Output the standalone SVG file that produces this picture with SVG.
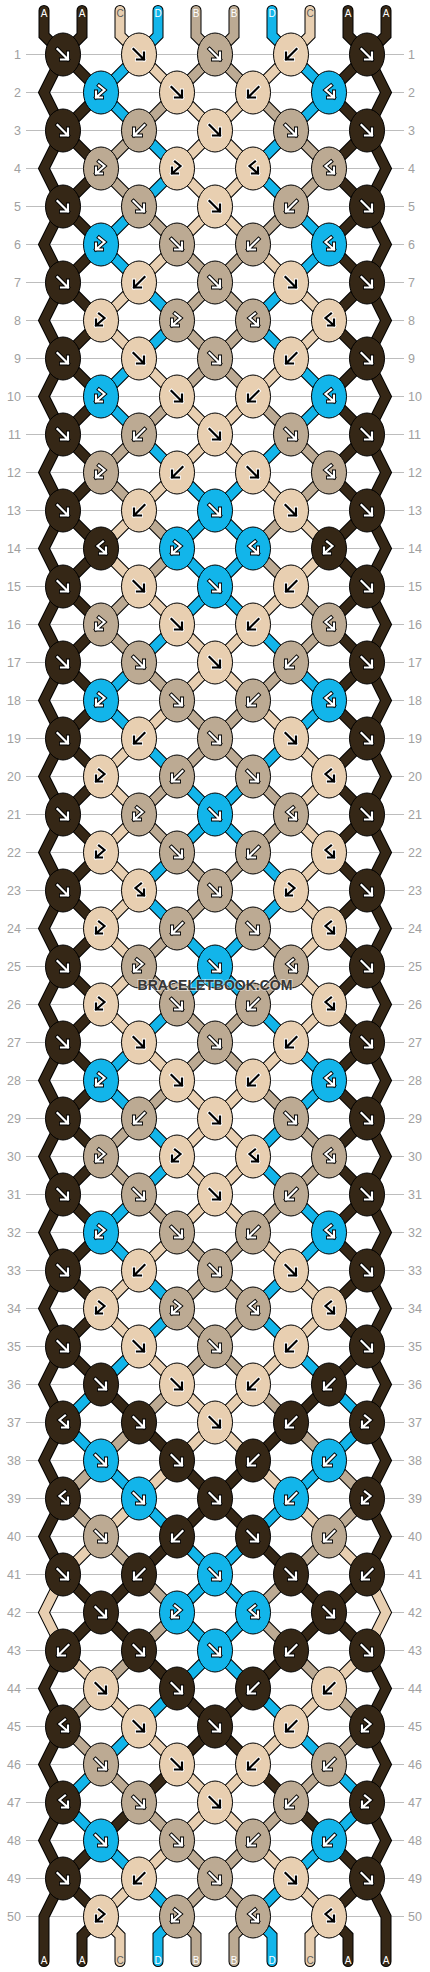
<svg xmlns="http://www.w3.org/2000/svg" xmlns:xlink="http://www.w3.org/1999/xlink" width="430" height="1972" viewBox="0 0 430 1972">
<style>
text{font-family:"Liberation Sans",Arial,sans-serif}
.num{font-size:12.5px;fill:#a0a0a0}
.lab{font-size:10px;text-anchor:middle}
.grid{stroke:#bdbdbd;stroke-width:1;fill:none}
.str{fill:none;stroke-linecap:round;stroke-linejoin:miter}
.o{stroke:#000;stroke-width:11}
.cA{stroke:#352716;stroke-width:9}
.cB{stroke:#bcaa93;stroke-width:9}
.cC{stroke:#e8cfb1;stroke-width:9}
.cD{stroke:#12b5ea;stroke-width:9}
.e{stroke:#000;stroke-width:1}
.eA{fill:#352716}.eB{fill:#bcaa93}.eC{fill:#e8cfb1}.eD{fill:#12b5ea}
.ar{fill:none;stroke-linecap:square;stroke-linejoin:miter}
.wo{stroke:#000;stroke-width:4}.wi{stroke:#fff;stroke-width:2.2}
.bo{stroke:#fff;stroke-width:4}.bi{stroke:#000;stroke-width:2.2}
</style>
<defs>
<path id="aF" class="ar" d="M-5.5 -5.5L5 5M5 -2V5H-2"/>
<path id="aB" class="ar" d="M5.5 -5.5L-5 5M-5 -2V5H2"/>
<path id="aFB" class="ar" d="M2 -7L-3.5 -2.5L5 5M5 -1V5H-1"/>
<path id="aBF" class="ar" d="M-2 -7L3.5 -2.5L-5 5M-5 -1V5H1"/>
<g id="kAF"><ellipse class="e eA" rx="17.5" ry="21.5"/><use href="#aF" class="wo"/><use href="#aF" class="wi"/></g>
<g id="kAB"><ellipse class="e eA" rx="17.5" ry="21.5"/><use href="#aB" class="wo"/><use href="#aB" class="wi"/></g>
<g id="kAFB"><ellipse class="e eA" rx="17.5" ry="21.5"/><use href="#aFB" class="wo"/><use href="#aFB" class="wi"/></g>
<g id="kABF"><ellipse class="e eA" rx="17.5" ry="21.5"/><use href="#aBF" class="wo"/><use href="#aBF" class="wi"/></g>
<g id="kBF"><ellipse class="e eB" rx="17.5" ry="21.5"/><use href="#aF" class="wo"/><use href="#aF" class="wi"/></g>
<g id="kBB"><ellipse class="e eB" rx="17.5" ry="21.5"/><use href="#aB" class="wo"/><use href="#aB" class="wi"/></g>
<g id="kBFB"><ellipse class="e eB" rx="17.5" ry="21.5"/><use href="#aFB" class="wo"/><use href="#aFB" class="wi"/></g>
<g id="kBBF"><ellipse class="e eB" rx="17.5" ry="21.5"/><use href="#aBF" class="wo"/><use href="#aBF" class="wi"/></g>
<g id="kCF"><ellipse class="e eC" rx="17.5" ry="21.5"/><use href="#aF" class="bo"/><use href="#aF" class="bi"/></g>
<g id="kCB"><ellipse class="e eC" rx="17.5" ry="21.5"/><use href="#aB" class="bo"/><use href="#aB" class="bi"/></g>
<g id="kCFB"><ellipse class="e eC" rx="17.5" ry="21.5"/><use href="#aFB" class="bo"/><use href="#aFB" class="bi"/></g>
<g id="kCBF"><ellipse class="e eC" rx="17.5" ry="21.5"/><use href="#aBF" class="bo"/><use href="#aBF" class="bi"/></g>
<g id="kDF"><ellipse class="e eD" rx="17.5" ry="21.5"/><use href="#aF" class="wo"/><use href="#aF" class="wi"/></g>
<g id="kDB"><ellipse class="e eD" rx="17.5" ry="21.5"/><use href="#aB" class="wo"/><use href="#aB" class="wi"/></g>
<g id="kDFB"><ellipse class="e eD" rx="17.5" ry="21.5"/><use href="#aFB" class="wo"/><use href="#aFB" class="wi"/></g>
<g id="kDBF"><ellipse class="e eD" rx="17.5" ry="21.5"/><use href="#aBF" class="wo"/><use href="#aBF" class="wi"/></g>
<path id="p0" class="str" d="M44 10.5V35.5L63 54.5l-19 38 19 38 -19 38 19 38 -19 38 19 38 -19 38 19 38 -19 38 19 38 -19 38 19 38 -19 38 19 38 -19 38 19 38 -19 38 19 38 -19 38 19 38 -19 38 19 38 -19 38 19 38 -19 38 19 38 -19 38 19 38 -19 38 19 38 -19 38 19 38 -19 38 19 38 -19 38 19 38 -19 38 19 38 -19 38 19 38 38 38 -38 38 -19 38 19 38 -19 38 19 38 -19 38 19 38 -19 38V1961.5"/>
<path id="p1" class="str" d="M82 10.5V35.5L63 54.5L101 92.5L63 130.5L101 168.5L63 206.5L101 244.5L63 282.5L101 320.5L63 358.5L101 396.5L63 434.5L101 472.5L63 510.5L101 548.5L63 586.5L101 624.5L63 662.5L101 700.5L63 738.5L101 776.5L63 814.5L101 852.5L63 890.5L101 928.5L63 966.5L101 1004.5L63 1042.5L101 1080.5L63 1118.5L101 1156.5L63 1194.5L101 1232.5L63 1270.5L101 1308.5L63 1346.5L101 1384.5L139 1422.5L177 1460.5L215 1498.5L177 1536.5L139 1574.5L101 1612.5L139 1650.5L177 1688.5L215 1726.5L177 1764.5L139 1802.5L101 1840.5L63 1878.5L101 1916.5L82 1935.5V1961.5"/>
<path id="p2" class="str" d="M120 10.5V35.5L139 54.5l38 38 38 38 -38 38 38 38 -38 38 -38 38 -38 38 38 38 38 38 38 38 -38 38 -38 38 -38 38 38 38 38 38 38 38 -38 38 -38 38 -38 38 38 38 -38 38 38 38 -38 38 38 38 -38 38 38 38 38 38 38 38 -38 38 38 38 -38 38 -38 38 -38 38 38 38 38 38 38 38 -38 38 -38 38 -38 38 -38 38 -19 38 19 38 38 38 38 38 38 38 38 38 -38 38 -38 38 -38 38 19 19V1961.5"/>
<path id="p3" class="str" d="M158 10.5V35.5L139 54.5l-38 38 38 38 38 38 -38 38 -38 38 38 38 38 38 -38 38 -38 38 38 38 38 38 38 38 -38 38 38 38 -38 38 -38 38 -38 38 38 38 38 38 38 38 -38 38 -38 38 38 38 38 38 -38 38 -38 38 -38 38 38 38 38 38 -38 38 -38 38 38 38 38 38 -38 38 -38 38 -38 38 38 38 38 38 38 38 38 38 -38 38 38 38 -38 38 -38 38 -38 38 -38 38 38 38 38 38 38 38 -19 19V1961.5"/>
<path id="p4" class="str" d="M196 10.5V35.5L215 54.5l-38 38 -38 38 -38 38 38 38 38 38 38 38 -38 38 38 38 -38 38 -38 38 -38 38 38 38 38 38 -38 38 -38 38 38 38 38 38 38 38 -38 38 -38 38 38 38 38 38 -38 38 -38 38 38 38 38 38 -38 38 -38 38 -38 38 38 38 38 38 38 38 -38 38 38 38 -38 38 -38 38 -38 38 -38 38 38 38 38 38 38 38 -38 38 -38 38 -38 38 38 38 38 38 38 38 38 38 -38 38 19 19V1961.5"/>
</defs>
<rect width="430" height="1972" fill="#fff"/>
<g id="grid" class="grid"><path d="M26 54.5H404M26 92.5H404M26 130.5H404M26 168.5H404M26 206.5H404M26 244.5H404M26 282.5H404M26 320.5H404M26 358.5H404M26 396.5H404M26 434.5H404M26 472.5H404M26 510.5H404M26 548.5H404M26 586.5H404M26 624.5H404M26 662.5H404M26 700.5H404M26 738.5H404M26 776.5H404M26 814.5H404M26 852.5H404M26 890.5H404M26 928.5H404M26 966.5H404M26 1004.5H404M26 1042.5H404M26 1080.5H404M26 1118.5H404M26 1156.5H404M26 1194.5H404M26 1232.5H404M26 1270.5H404M26 1308.5H404M26 1346.5H404M26 1384.5H404M26 1422.5H404M26 1460.5H404M26 1498.5H404M26 1536.5H404M26 1574.5H404M26 1612.5H404M26 1650.5H404M26 1688.5H404M26 1726.5H404M26 1764.5H404M26 1802.5H404M26 1840.5H404M26 1878.5H404M26 1916.5H404"/></g>
<g id="numbers-left" class="num" text-anchor="end">
<text x="21" y="59">1</text><text x="21" y="97">2</text><text x="21" y="135">3</text><text x="21" y="173">4</text><text x="21" y="211">5</text><text x="21" y="249">6</text><text x="21" y="287">7</text><text x="21" y="325">8</text><text x="21" y="363">9</text><text x="21" y="401">10</text><text x="21" y="439">11</text><text x="21" y="477">12</text><text x="21" y="515">13</text><text x="21" y="553">14</text><text x="21" y="591">15</text><text x="21" y="629">16</text><text x="21" y="667">17</text><text x="21" y="705">18</text><text x="21" y="743">19</text><text x="21" y="781">20</text><text x="21" y="819">21</text><text x="21" y="857">22</text><text x="21" y="895">23</text><text x="21" y="933">24</text><text x="21" y="971">25</text><text x="21" y="1009">26</text><text x="21" y="1047">27</text><text x="21" y="1085">28</text><text x="21" y="1123">29</text><text x="21" y="1161">30</text><text x="21" y="1199">31</text><text x="21" y="1237">32</text><text x="21" y="1275">33</text><text x="21" y="1313">34</text><text x="21" y="1351">35</text><text x="21" y="1389">36</text><text x="21" y="1427">37</text><text x="21" y="1465">38</text><text x="21" y="1503">39</text><text x="21" y="1541">40</text><text x="21" y="1579">41</text><text x="21" y="1617">42</text><text x="21" y="1655">43</text><text x="21" y="1693">44</text><text x="21" y="1731">45</text><text x="21" y="1769">46</text><text x="21" y="1807">47</text><text x="21" y="1845">48</text><text x="21" y="1883">49</text><text x="21" y="1921">50</text>
</g>
<g id="numbers-right" class="num">
<text x="408" y="59">1</text><text x="408" y="97">2</text><text x="408" y="135">3</text><text x="408" y="173">4</text><text x="408" y="211">5</text><text x="408" y="249">6</text><text x="408" y="287">7</text><text x="408" y="325">8</text><text x="408" y="363">9</text><text x="408" y="401">10</text><text x="408" y="439">11</text><text x="408" y="477">12</text><text x="408" y="515">13</text><text x="408" y="553">14</text><text x="408" y="591">15</text><text x="408" y="629">16</text><text x="408" y="667">17</text><text x="408" y="705">18</text><text x="408" y="743">19</text><text x="408" y="781">20</text><text x="408" y="819">21</text><text x="408" y="857">22</text><text x="408" y="895">23</text><text x="408" y="933">24</text><text x="408" y="971">25</text><text x="408" y="1009">26</text><text x="408" y="1047">27</text><text x="408" y="1085">28</text><text x="408" y="1123">29</text><text x="408" y="1161">30</text><text x="408" y="1199">31</text><text x="408" y="1237">32</text><text x="408" y="1275">33</text><text x="408" y="1313">34</text><text x="408" y="1351">35</text><text x="408" y="1389">36</text><text x="408" y="1427">37</text><text x="408" y="1465">38</text><text x="408" y="1503">39</text><text x="408" y="1541">40</text><text x="408" y="1579">41</text><text x="408" y="1617">42</text><text x="408" y="1655">43</text><text x="408" y="1693">44</text><text x="408" y="1731">45</text><text x="408" y="1769">46</text><text x="408" y="1807">47</text><text x="408" y="1845">48</text><text x="408" y="1883">49</text><text x="408" y="1921">50</text>
</g>
<g id="connectors">
<use href="#p0" class="o"/><use href="#p0" class="cA"/>
<use href="#p1" class="o"/><use href="#p1" class="cA"/>
<use href="#p2" class="o"/><use href="#p2" class="cC"/>
<use href="#p3" class="o"/><use href="#p3" class="cD"/>
<use href="#p4" class="o"/><use href="#p4" class="cB"/>
<g transform="matrix(-1 0 0 1 430 0)">
<use href="#p0" class="o"/><use href="#p0" class="cA"/>
<use href="#p1" class="o"/><use href="#p1" class="cA"/>
<use href="#p2" class="o"/><use href="#p2" class="cC"/>
<use href="#p3" class="o"/><use href="#p3" class="cD"/>
<use href="#p4" class="o"/><use href="#p4" class="cB"/>
</g>
</g>
<g id="knots">
<g transform="translate(0 54.5)"><g id="k1-1"><use href="#kAF" x="63"/></g><g id="k1-2"><use href="#kCF" x="139"/></g><g id="k1-3"><use href="#kBF" x="215"/></g><g id="k1-4"><use href="#kCB" x="291"/></g><g id="k1-5"><use href="#kAF" x="367"/></g></g>
<g transform="translate(0 92.5)"><g id="k2-1"><use href="#kDBF" x="101"/></g><g id="k2-2"><use href="#kCF" x="177"/></g><g id="k2-3"><use href="#kCB" x="253"/></g><g id="k2-4"><use href="#kDFB" x="329"/></g></g>
<g transform="translate(0 130.5)"><g id="k3-1"><use href="#kAF" x="63"/></g><g id="k3-2"><use href="#kBB" x="139"/></g><g id="k3-3"><use href="#kCF" x="215"/></g><g id="k3-4"><use href="#kBF" x="291"/></g><g id="k3-5"><use href="#kAF" x="367"/></g></g>
<g transform="translate(0 168.5)"><g id="k4-1"><use href="#kBBF" x="101"/></g><g id="k4-2"><use href="#kCBF" x="177"/></g><g id="k4-3"><use href="#kCFB" x="253"/></g><g id="k4-4"><use href="#kBFB" x="329"/></g></g>
<g transform="translate(0 206.5)"><g id="k5-1"><use href="#kAF" x="63"/></g><g id="k5-2"><use href="#kBF" x="139"/></g><g id="k5-3"><use href="#kCF" x="215"/></g><g id="k5-4"><use href="#kBB" x="291"/></g><g id="k5-5"><use href="#kAF" x="367"/></g></g>
<g transform="translate(0 244.5)"><g id="k6-1"><use href="#kDBF" x="101"/></g><g id="k6-2"><use href="#kBF" x="177"/></g><g id="k6-3"><use href="#kBB" x="253"/></g><g id="k6-4"><use href="#kDFB" x="329"/></g></g>
<g transform="translate(0 282.5)"><g id="k7-1"><use href="#kAF" x="63"/></g><g id="k7-2"><use href="#kCB" x="139"/></g><g id="k7-3"><use href="#kBF" x="215"/></g><g id="k7-4"><use href="#kCF" x="291"/></g><g id="k7-5"><use href="#kAF" x="367"/></g></g>
<g transform="translate(0 320.5)"><g id="k8-1"><use href="#kCBF" x="101"/></g><g id="k8-2"><use href="#kBBF" x="177"/></g><g id="k8-3"><use href="#kBFB" x="253"/></g><g id="k8-4"><use href="#kCFB" x="329"/></g></g>
<g transform="translate(0 358.5)"><g id="k9-1"><use href="#kAF" x="63"/></g><g id="k9-2"><use href="#kCF" x="139"/></g><g id="k9-3"><use href="#kBF" x="215"/></g><g id="k9-4"><use href="#kCB" x="291"/></g><g id="k9-5"><use href="#kAF" x="367"/></g></g>
<g transform="translate(0 396.5)"><g id="k10-1"><use href="#kDBF" x="101"/></g><g id="k10-2"><use href="#kCF" x="177"/></g><g id="k10-3"><use href="#kCB" x="253"/></g><g id="k10-4"><use href="#kDFB" x="329"/></g></g>
<g transform="translate(0 434.5)"><g id="k11-1"><use href="#kAF" x="63"/></g><g id="k11-2"><use href="#kBB" x="139"/></g><g id="k11-3"><use href="#kCF" x="215"/></g><g id="k11-4"><use href="#kBF" x="291"/></g><g id="k11-5"><use href="#kAF" x="367"/></g></g>
<g transform="translate(0 472.5)"><g id="k12-1"><use href="#kBBF" x="101"/></g><g id="k12-2"><use href="#kCB" x="177"/></g><g id="k12-3"><use href="#kCF" x="253"/></g><g id="k12-4"><use href="#kBFB" x="329"/></g></g>
<g transform="translate(0 510.5)"><g id="k13-1"><use href="#kAF" x="63"/></g><g id="k13-2"><use href="#kCB" x="139"/></g><g id="k13-3"><use href="#kDF" x="215"/></g><g id="k13-4"><use href="#kCF" x="291"/></g><g id="k13-5"><use href="#kAF" x="367"/></g></g>
<g transform="translate(0 548.5)"><g id="k14-1"><use href="#kAFB" x="101"/></g><g id="k14-2"><use href="#kDBF" x="177"/></g><g id="k14-3"><use href="#kDFB" x="253"/></g><g id="k14-4"><use href="#kABF" x="329"/></g></g>
<g transform="translate(0 586.5)"><g id="k15-1"><use href="#kAF" x="63"/></g><g id="k15-2"><use href="#kCF" x="139"/></g><g id="k15-3"><use href="#kDF" x="215"/></g><g id="k15-4"><use href="#kCB" x="291"/></g><g id="k15-5"><use href="#kAF" x="367"/></g></g>
<g transform="translate(0 624.5)"><g id="k16-1"><use href="#kBBF" x="101"/></g><g id="k16-2"><use href="#kCF" x="177"/></g><g id="k16-3"><use href="#kCB" x="253"/></g><g id="k16-4"><use href="#kBFB" x="329"/></g></g>
<g transform="translate(0 662.5)"><g id="k17-1"><use href="#kAF" x="63"/></g><g id="k17-2"><use href="#kBF" x="139"/></g><g id="k17-3"><use href="#kCF" x="215"/></g><g id="k17-4"><use href="#kBB" x="291"/></g><g id="k17-5"><use href="#kAF" x="367"/></g></g>
<g transform="translate(0 700.5)"><g id="k18-1"><use href="#kDBF" x="101"/></g><g id="k18-2"><use href="#kBF" x="177"/></g><g id="k18-3"><use href="#kBB" x="253"/></g><g id="k18-4"><use href="#kDFB" x="329"/></g></g>
<g transform="translate(0 738.5)"><g id="k19-1"><use href="#kAF" x="63"/></g><g id="k19-2"><use href="#kCB" x="139"/></g><g id="k19-3"><use href="#kBF" x="215"/></g><g id="k19-4"><use href="#kCF" x="291"/></g><g id="k19-5"><use href="#kAF" x="367"/></g></g>
<g transform="translate(0 776.5)"><g id="k20-1"><use href="#kCBF" x="101"/></g><g id="k20-2"><use href="#kBB" x="177"/></g><g id="k20-3"><use href="#kBF" x="253"/></g><g id="k20-4"><use href="#kCFB" x="329"/></g></g>
<g transform="translate(0 814.5)"><g id="k21-1"><use href="#kAF" x="63"/></g><g id="k21-2"><use href="#kBBF" x="139"/></g><g id="k21-3"><use href="#kDF" x="215"/></g><g id="k21-4"><use href="#kBFB" x="291"/></g><g id="k21-5"><use href="#kAF" x="367"/></g></g>
<g transform="translate(0 852.5)"><g id="k22-1"><use href="#kCBF" x="101"/></g><g id="k22-2"><use href="#kBF" x="177"/></g><g id="k22-3"><use href="#kBB" x="253"/></g><g id="k22-4"><use href="#kCFB" x="329"/></g></g>
<g transform="translate(0 890.5)"><g id="k23-1"><use href="#kAF" x="63"/></g><g id="k23-2"><use href="#kCFB" x="139"/></g><g id="k23-3"><use href="#kBF" x="215"/></g><g id="k23-4"><use href="#kCBF" x="291"/></g><g id="k23-5"><use href="#kAF" x="367"/></g></g>
<g transform="translate(0 928.5)"><g id="k24-1"><use href="#kCBF" x="101"/></g><g id="k24-2"><use href="#kBB" x="177"/></g><g id="k24-3"><use href="#kBF" x="253"/></g><g id="k24-4"><use href="#kCFB" x="329"/></g></g>
<g transform="translate(0 966.5)"><g id="k25-1"><use href="#kAF" x="63"/></g><g id="k25-2"><use href="#kBBF" x="139"/></g><g id="k25-3"><use href="#kDF" x="215"/></g><g id="k25-4"><use href="#kBFB" x="291"/></g><g id="k25-5"><use href="#kAF" x="367"/></g></g>
<g transform="translate(0 1004.5)"><g id="k26-1"><use href="#kCBF" x="101"/></g><g id="k26-2"><use href="#kBF" x="177"/></g><g id="k26-3"><use href="#kBB" x="253"/></g><g id="k26-4"><use href="#kCFB" x="329"/></g></g>
<g transform="translate(0 1042.5)"><g id="k27-1"><use href="#kAF" x="63"/></g><g id="k27-2"><use href="#kCF" x="139"/></g><g id="k27-3"><use href="#kBF" x="215"/></g><g id="k27-4"><use href="#kCB" x="291"/></g><g id="k27-5"><use href="#kAF" x="367"/></g></g>
<g transform="translate(0 1080.5)"><g id="k28-1"><use href="#kDBF" x="101"/></g><g id="k28-2"><use href="#kCF" x="177"/></g><g id="k28-3"><use href="#kCB" x="253"/></g><g id="k28-4"><use href="#kDFB" x="329"/></g></g>
<g transform="translate(0 1118.5)"><g id="k29-1"><use href="#kAF" x="63"/></g><g id="k29-2"><use href="#kBB" x="139"/></g><g id="k29-3"><use href="#kCF" x="215"/></g><g id="k29-4"><use href="#kBF" x="291"/></g><g id="k29-5"><use href="#kAF" x="367"/></g></g>
<g transform="translate(0 1156.5)"><g id="k30-1"><use href="#kBBF" x="101"/></g><g id="k30-2"><use href="#kCBF" x="177"/></g><g id="k30-3"><use href="#kCFB" x="253"/></g><g id="k30-4"><use href="#kBFB" x="329"/></g></g>
<g transform="translate(0 1194.5)"><g id="k31-1"><use href="#kAF" x="63"/></g><g id="k31-2"><use href="#kBF" x="139"/></g><g id="k31-3"><use href="#kCF" x="215"/></g><g id="k31-4"><use href="#kBB" x="291"/></g><g id="k31-5"><use href="#kAF" x="367"/></g></g>
<g transform="translate(0 1232.5)"><g id="k32-1"><use href="#kDBF" x="101"/></g><g id="k32-2"><use href="#kBF" x="177"/></g><g id="k32-3"><use href="#kBB" x="253"/></g><g id="k32-4"><use href="#kDFB" x="329"/></g></g>
<g transform="translate(0 1270.5)"><g id="k33-1"><use href="#kAF" x="63"/></g><g id="k33-2"><use href="#kCB" x="139"/></g><g id="k33-3"><use href="#kBF" x="215"/></g><g id="k33-4"><use href="#kCF" x="291"/></g><g id="k33-5"><use href="#kAF" x="367"/></g></g>
<g transform="translate(0 1308.5)"><g id="k34-1"><use href="#kCBF" x="101"/></g><g id="k34-2"><use href="#kBBF" x="177"/></g><g id="k34-3"><use href="#kBFB" x="253"/></g><g id="k34-4"><use href="#kCFB" x="329"/></g></g>
<g transform="translate(0 1346.5)"><g id="k35-1"><use href="#kAF" x="63"/></g><g id="k35-2"><use href="#kCF" x="139"/></g><g id="k35-3"><use href="#kBF" x="215"/></g><g id="k35-4"><use href="#kCB" x="291"/></g><g id="k35-5"><use href="#kAF" x="367"/></g></g>
<g transform="translate(0 1384.5)"><g id="k36-1"><use href="#kAF" x="101"/></g><g id="k36-2"><use href="#kCF" x="177"/></g><g id="k36-3"><use href="#kCB" x="253"/></g><g id="k36-4"><use href="#kAB" x="329"/></g></g>
<g transform="translate(0 1422.5)"><g id="k37-1"><use href="#kAFB" x="63"/></g><g id="k37-2"><use href="#kAF" x="139"/></g><g id="k37-3"><use href="#kCF" x="215"/></g><g id="k37-4"><use href="#kAB" x="291"/></g><g id="k37-5"><use href="#kABF" x="367"/></g></g>
<g transform="translate(0 1460.5)"><g id="k38-1"><use href="#kDF" x="101"/></g><g id="k38-2"><use href="#kAF" x="177"/></g><g id="k38-3"><use href="#kAB" x="253"/></g><g id="k38-4"><use href="#kDB" x="329"/></g></g>
<g transform="translate(0 1498.5)"><g id="k39-1"><use href="#kAFB" x="63"/></g><g id="k39-2"><use href="#kDF" x="139"/></g><g id="k39-3"><use href="#kAF" x="215"/></g><g id="k39-4"><use href="#kDB" x="291"/></g><g id="k39-5"><use href="#kABF" x="367"/></g></g>
<g transform="translate(0 1536.5)"><g id="k40-1"><use href="#kBF" x="101"/></g><g id="k40-2"><use href="#kAB" x="177"/></g><g id="k40-3"><use href="#kAF" x="253"/></g><g id="k40-4"><use href="#kBB" x="329"/></g></g>
<g transform="translate(0 1574.5)"><g id="k41-1"><use href="#kAF" x="63"/></g><g id="k41-2"><use href="#kAB" x="139"/></g><g id="k41-3"><use href="#kDF" x="215"/></g><g id="k41-4"><use href="#kAF" x="291"/></g><g id="k41-5"><use href="#kAB" x="367"/></g></g>
<g transform="translate(0 1612.5)"><g id="k42-1"><use href="#kAF" x="101"/></g><g id="k42-2"><use href="#kDBF" x="177"/></g><g id="k42-3"><use href="#kDFB" x="253"/></g><g id="k42-4"><use href="#kAF" x="329"/></g></g>
<g transform="translate(0 1650.5)"><g id="k43-1"><use href="#kAB" x="63"/></g><g id="k43-2"><use href="#kAF" x="139"/></g><g id="k43-3"><use href="#kDF" x="215"/></g><g id="k43-4"><use href="#kAB" x="291"/></g><g id="k43-5"><use href="#kAF" x="367"/></g></g>
<g transform="translate(0 1688.5)"><g id="k44-1"><use href="#kCF" x="101"/></g><g id="k44-2"><use href="#kAF" x="177"/></g><g id="k44-3"><use href="#kAB" x="253"/></g><g id="k44-4"><use href="#kCB" x="329"/></g></g>
<g transform="translate(0 1726.5)"><g id="k45-1"><use href="#kAFB" x="63"/></g><g id="k45-2"><use href="#kCF" x="139"/></g><g id="k45-3"><use href="#kAF" x="215"/></g><g id="k45-4"><use href="#kCB" x="291"/></g><g id="k45-5"><use href="#kABF" x="367"/></g></g>
<g transform="translate(0 1764.5)"><g id="k46-1"><use href="#kBF" x="101"/></g><g id="k46-2"><use href="#kCF" x="177"/></g><g id="k46-3"><use href="#kCB" x="253"/></g><g id="k46-4"><use href="#kBB" x="329"/></g></g>
<g transform="translate(0 1802.5)"><g id="k47-1"><use href="#kAFB" x="63"/></g><g id="k47-2"><use href="#kBF" x="139"/></g><g id="k47-3"><use href="#kCF" x="215"/></g><g id="k47-4"><use href="#kBB" x="291"/></g><g id="k47-5"><use href="#kABF" x="367"/></g></g>
<g transform="translate(0 1840.5)"><g id="k48-1"><use href="#kDF" x="101"/></g><g id="k48-2"><use href="#kBF" x="177"/></g><g id="k48-3"><use href="#kBB" x="253"/></g><g id="k48-4"><use href="#kDB" x="329"/></g></g>
<g transform="translate(0 1878.5)"><g id="k49-1"><use href="#kAF" x="63"/></g><g id="k49-2"><use href="#kCB" x="139"/></g><g id="k49-3"><use href="#kBF" x="215"/></g><g id="k49-4"><use href="#kCF" x="291"/></g><g id="k49-5"><use href="#kAF" x="367"/></g></g>
<g transform="translate(0 1916.5)"><g id="k50-1"><use href="#kCBF" x="101"/></g><g id="k50-2"><use href="#kBBF" x="177"/></g><g id="k50-3"><use href="#kBFB" x="253"/></g><g id="k50-4"><use href="#kCFB" x="329"/></g></g>
</g>
<g id="labels-top" class="lab">
<text x="44" y="16.5" fill="#fff">A</text><text x="82" y="16.5" fill="#fff">A</text><text x="120" y="16.5" fill="#5b5b5b">C</text><text x="158" y="16.5" fill="#fff">D</text><text x="196" y="16.5" fill="#fff">B</text><text x="234" y="16.5" fill="#fff">B</text><text x="272" y="16.5" fill="#fff">D</text><text x="310" y="16.5" fill="#5b5b5b">C</text><text x="348" y="16.5" fill="#fff">A</text><text x="386" y="16.5" fill="#fff">A</text>
</g>
<g id="labels-bottom" class="lab">
<text x="44" y="1964" fill="#fff">A</text><text x="82" y="1964" fill="#fff">A</text><text x="120" y="1964" fill="#5b5b5b">C</text><text x="158" y="1964" fill="#fff">D</text><text x="196" y="1964" fill="#fff">B</text><text x="234" y="1964" fill="#fff">B</text><text x="272" y="1964" fill="#fff">D</text><text x="310" y="1964" fill="#5b5b5b">C</text><text x="348" y="1964" fill="#fff">A</text><text x="386" y="1964" fill="#fff">A</text>
</g>
<text id="watermark" x="215" y="990" text-anchor="middle" font-size="14" font-weight="bold" fill="#363636" stroke="#fff" stroke-opacity="0.45" stroke-width="2" paint-order="stroke">BRACELETBOOK.COM</text>
</svg>
